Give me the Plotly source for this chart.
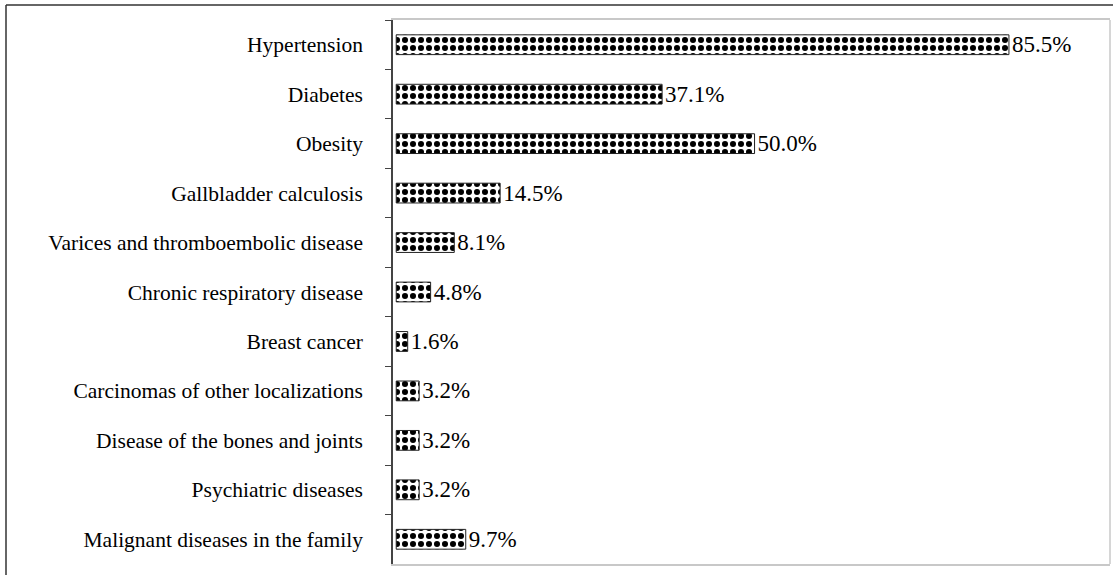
import plotly.graph_objects as go

categories = [
    "Hypertension",
    "Diabetes",
    "Obesity",
    "Gallbladder calculosis",
    "Varices and thromboembolic disease",
    "Chronic respiratory disease",
    "Breast cancer",
    "Carcinomas of other localizations",
    "Disease of the bones and joints",
    "Psychiatric diseases",
    "Malignant diseases in the family",
]
values = [85.5, 37.1, 50.0, 14.5, 8.1, 4.8, 1.6, 3.2, 3.2, 3.2, 9.7]

W, H = 1115, 575
L, R, T, B = 393, 1110, 20, 564
FONT = "Liberation Serif, Times New Roman, serif"

fig = go.Figure(go.Bar(
    x=values, y=categories, orientation="h",
    marker=dict(color="white",
                line=dict(color="#222222", width=1),
                pattern=dict(shape=".", fgcolor="black", bgcolor="white",
                             size=8, solidity=0.45, fillmode="replace", fgopacity=1)),
    texttemplate="%{x:.1f}%", textposition="outside", cliponaxis=False,
    constraintext="none",
    textfont=dict(family=FONT, size=23, color="black"),
))

def px_x(p):
    return (p - L) / (R - L)

def px_y(p):
    return (B - p) / (B - T)

shapes = [
    dict(type="line", xref="paper", yref="paper", x0=px_x(6), x1=px_x(6), y0=px_y(5), y1=px_y(576),
         line=dict(color="#333333", width=1.5)),
    dict(type="line", xref="paper", yref="paper", x0=px_x(6), x1=px_x(1113), y0=px_y(5), y1=px_y(5),
         line=dict(color="#333333", width=1.5)),
    dict(type="line", xref="paper", yref="paper", x0=1, x1=1, y0=0, y1=1,
         line=dict(color="#c8c8c8", width=1.5)),
]

fig.update_layout(
    width=W, height=H,
    margin=dict(l=L, r=W - R, t=T, b=H - B),
    paper_bgcolor="white", plot_bgcolor="white",
    showlegend=False,
    bargap=0.6,
    shapes=shapes,
    font=dict(family=FONT),
    uniformtext=dict(mode=False),
    xaxis=dict(range=[-0.45, 99.6], showgrid=False, zeroline=False, showticklabels=False,
               ticks="", showline=True, mirror=True, linecolor="#c8c8c8", linewidth=1.5),
    yaxis=dict(autorange="reversed", showgrid=False, zeroline=False,
               showline=True, linecolor="#444444", linewidth=1.5,
               ticks="outside", ticklen=6, tickcolor="#444444", tickson="boundaries",
               ticklabelstandoff=24,
               tickfont=dict(family=FONT, size=21.5, color="black")),
)

fig.write_html("out.html")
